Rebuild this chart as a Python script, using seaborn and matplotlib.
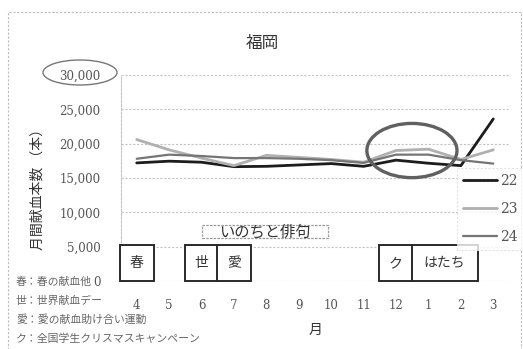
import matplotlib
matplotlib.use("Agg")
import matplotlib.pyplot as plt
import numpy as np
import pandas as pd
import seaborn as sns
from matplotlib.patches import Ellipse, Rectangle
from matplotlib.lines import Line2D

# ---- data ----
months = ['4', '5', '6', '7', '8', '9', '10', '11', '12', '1', '2', '3']
s22 = [17200, 17450, 17300, 16650, 16700, 16900, 17100, 16700, 17600, 17150, 16800, 23600]
s23 = [20600, 19100, 17900, 16800, 18300, 18000, 17700, 17300, 19000, 19200, 17700, 19100]
s24 = [17800, 18400, 18200, 17900, 17900, 17800, 17600, 17200, 18400, 18400, 17600, 17100]
series_names = ['22', '23', '24']
yticks = [0, 5000, 10000, 15000, 20000, 25000, 30000]

event_labels = ['春', '世', '愛', 'ク', 'はたち']
event_first = ['4', '6', '7', '12', '1']
event_last = ['4', '6', '7', '12', '2']
campaign_label = 'いのちと俳句'
notes = ['春：春の献血他', '世：世界献血デー', '愛：愛の献血助け合い運動', 'ク：全国学生クリスマスキャンペーン']

title = '福岡'
ylabel = '月間献血本数 （本）'
xlabel = '月'

# ---- figure ----
sns.set_theme(style='white')
plt.rcParams['font.family'] = ['Noto Sans CJK JP', 'DejaVu Sans']

W, H = 523, 349
fig = plt.figure(figsize=(W / 100, H / 100), dpi=100)
fig.patch.set_facecolor('white')

def fx(px):
    return px / W

def fy(py):
    return 1 - py / H

ax = fig.add_axes([fx(120.5), fy(281), fx(509.5) - fx(120.5), fy(75) - fy(281)])

idx = list(range(len(months)))
df = pd.DataFrame({
    'x': idx * 3,
    'value': s22 + s23 + s24,
    'series': [series_names[0]] * 12 + [series_names[1]] * 12 + [series_names[2]] * 12,
})
palette = {'22': '#1c1c1c', '23': '#b0b0b0', '24': '#757575'}
widths = {'22': 2.0, '23': 2.0, '24': 1.6}
sns.lineplot(data=df, x='x', y='value', hue='series', palette=palette,
             ax=ax, legend=False, zorder=3)
for line, name in zip(ax.get_lines(), series_names):
    line.set_linewidth(widths[name])

ax.set_xlim(-0.5, 11.5)
ax.set_ylim(0, 30000)
ax.set_yticks(yticks)
ax.set_yticklabels([f'{v:,}' for v in yticks], family='DejaVu Serif', fontsize=8.5, color='#555555')
ax.set_xticks(idx)
ax.set_xticklabels(months, family='DejaVu Serif', fontsize=8.5, color='#555555')
ax.tick_params(axis='y', length=0, pad=14.5)
ax.tick_params(axis='x', length=0, pad=13)
ax.set_xlabel('')
ax.set_ylabel('')
ax.yaxis.grid(True, linestyle=(0, (2, 1.5)), color='#c4c4c4', linewidth=0.8)
ax.xaxis.grid(False)
for s in ['top', 'right', 'bottom']:
    ax.spines[s].set_visible(False)
ax.spines['left'].set_linestyle((0, (2, 1.5)))
ax.spines['left'].set_color('#c4c4c4')
ax.spines['left'].set_linewidth(0.8)
ax.set_facecolor('none')

# event boxes
pos = {m: i for i, m in enumerate(months)}
for lab, a, b in zip(event_labels, event_first, event_last):
    x0 = pos[a] - 0.52
    x1 = pos[b] + 0.52
    ax.add_patch(Rectangle((x0, 0), x1 - x0, 5200, facecolor='white',
                           edgecolor='#2a2a2a', linewidth=1.4, zorder=4, clip_on=False))
    ax.text((x0 + x1) / 2, 2600, lab, ha='center', va='center', fontsize=10,
            color='#333333', zorder=5)

# campaign box
ax.add_patch(Rectangle((2.0, 6250), 3.9, 1850, facecolor='white', edgecolor='#999999',
                       linewidth=0.9, linestyle=(0, (2, 1)), zorder=4))
ax.text(3.95, 7175, campaign_label, ha='center', va='center', fontsize=11,
        color='#333333', zorder=5)

# highlight ellipse around Dec-Feb
ax.add_patch(Ellipse((8.49, 19000), 2.78, 7900, facecolor='none', edgecolor='#606060',
                     linewidth=2.4, zorder=6))

# legend
handles = [Line2D([0], [0], color=palette[n], linewidth=widths[n]) for n in series_names]
leg = fig.legend(handles, series_names, loc='upper left',
                 bbox_to_anchor=(fx(457), fy(168)), frameon=True, fancybox=False,
                 handlelength=2.4, handletextpad=0.25, labelspacing=1.0,
                 borderpad=0.45, borderaxespad=0,
                 prop={'family': 'DejaVu Serif', 'size': 10})
for t in leg.get_texts():
    t.set_color('#555555')
frame = leg.get_frame()
frame.set_edgecolor('#dddddd')
frame.set_linestyle((0, (2, 1.5)))
frame.set_linewidth(0.8)

# title, axis labels
fig.text(fx(262), fy(43), title, ha='center', va='center', fontsize=12, color='#333333')
fig.text(fx(38), fy(186), ylabel, ha='center', va='center', rotation=90,
         fontsize=10, color='#333333')
fig.text(fx(316), fy(330), xlabel, ha='center', va='center', fontsize=10, color='#333333')

# notes
for i, n in enumerate(notes):
    fig.text(fx(16), fy(282 + i * 19), n, ha='left', va='center', fontsize=7.8, color='#666666')

# ellipse around 30,000 label
fig.patches.append(Ellipse((fx(80), fy(72.5)), fx(74), 25 / H, facecolor='none',
                           edgecolor='#777777', linewidth=1.0, transform=fig.transFigure))

# outer dashed border
fig.patches.append(Rectangle((fx(8), fy(360)), fx(513), (360 - 12) / H, facecolor='none',
                             edgecolor='#bbbbbb', linewidth=0.8, linestyle=(0, (2, 1.5)),
                             transform=fig.transFigure))

fig.savefig('out.png', dpi=100, facecolor='white')
